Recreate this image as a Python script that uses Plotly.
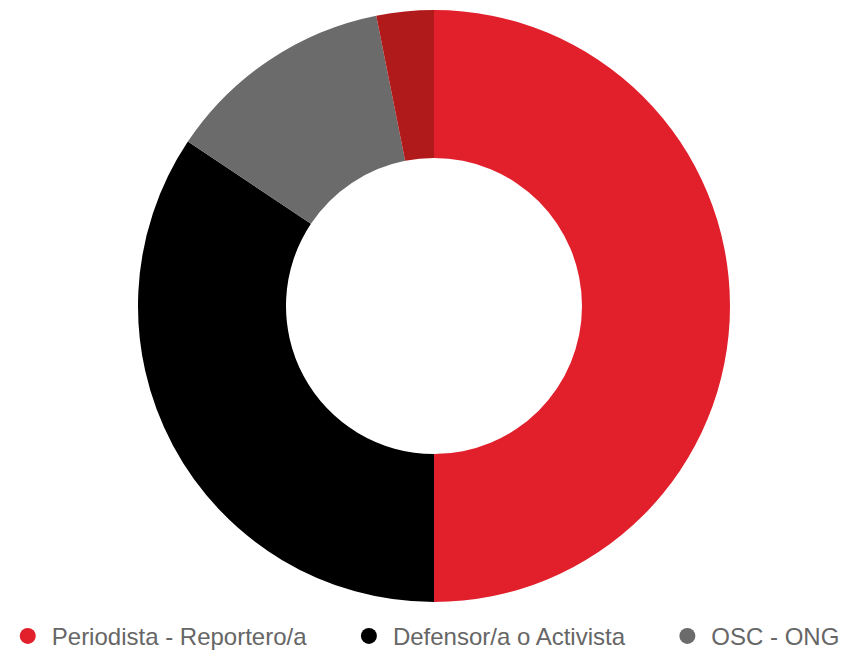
import plotly.graph_objects as go

categories = ["Periodista - Reportero/a", "Defensor/a o Activista", "OSC - ONG", "Otro"]
values = [16, 11, 4, 1]
colors = ["#E1202C", "#000000", "#6B6B6B", "#B01A1A"]
legend_items = categories[:3]
legend_pad = [5, 5, 0]  # non-breaking spaces widening the gap after each legend entry

fig = go.Figure()
fig.add_trace(go.Pie(
    labels=categories, values=values, hole=0.5, sort=False,
    direction="clockwise", rotation=0, textinfo="none",
    marker=dict(colors=colors, line=dict(width=0)),
    showlegend=False, domain=dict(x=[0, 1], y=[0, 1]),
))
for name, c, pad in zip(legend_items, colors, legend_pad):
    fig.add_trace(go.Scatter(
        x=[None], y=[None], mode="markers", name=name + "\u00a0" * pad,
        marker=dict(symbol="circle", size=22, color=c), hoverinfo="skip",
    ))

fig.update_layout(
    width=848, height=654,
    margin=dict(l=20, r=0, t=10, b=52, autoexpand=False),
    paper_bgcolor="white", plot_bgcolor="white",
    xaxis=dict(visible=False), yaxis=dict(visible=False),
    showlegend=True,
    legend=dict(
        orientation="h", x=-0.0196, xanchor="left", y=-0.058, yanchor="middle",
        font=dict(family="Liberation Sans, Arial, sans-serif", size=24, color="#666666"),
        itemsizing="trace", itemwidth=38,
        traceorder="normal",
    ),
)

fig.write_html("out.html", config={"responsive": False})
